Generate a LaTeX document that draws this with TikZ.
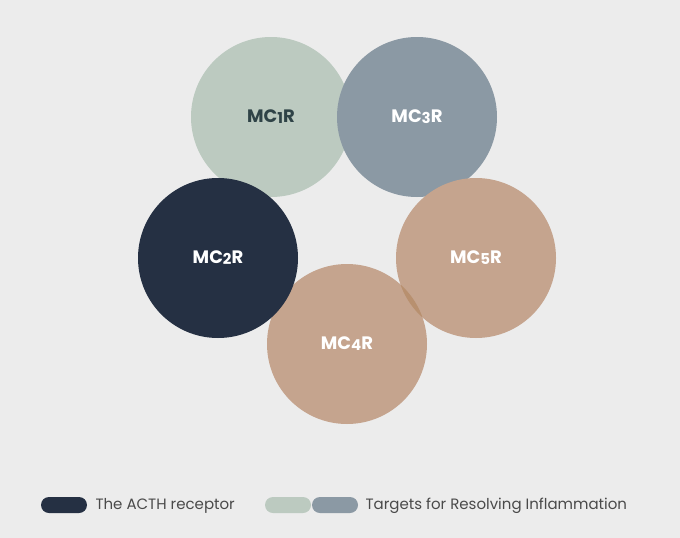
\documentclass[tikz,border=0pt]{standalone}
\usepackage{fontspec}
\setmainfont{Poppins}
\definecolor{bg}{HTML}{ECECEC}
\definecolor{cA}{HTML}{BCCAC0}
\definecolor{cB}{HTML}{8B99A4}
\definecolor{cC}{HTML}{253043}
\definecolor{cD}{HTML}{C5A48E}
\definecolor{cE}{HTML}{B8906F}
\definecolor{tA}{HTML}{2F4347}
\definecolor{tL}{HTML}{4A4A4A}
\begin{document}
\begin{tikzpicture}[x=1pt,y=-1pt,
  circ/.style={circle,minimum size=160pt,inner sep=0pt,font=\bfseries\fontsize{18}{20}\selectfont},
  pill/.style={rounded corners=8pt,minimum width=46pt,minimum height=16pt,inner sep=0pt},
  leg/.style={anchor=west,text=tL,font=\fontsize{15}{17}\selectfont}]
\fill[bg] (0,0) rectangle (680,538);
\useasboundingbox (0,0) rectangle (680,538);
\node[circ,fill=cA,text=tA] (m1) at (271,117) {MC\raisebox{-1pt}{\fontsize{15}{15}\selectfont 1}R};
\node[circ,fill=cB,text=white] (m3) at (417,117) {MC\raisebox{-1pt}{\fontsize{15}{15}\selectfont 3}R};
\node[circ,fill=cD,text=white] (m4) at (347,344) {};
\node[circ,fill=cD,text=white] (m5) at (476,258) {MC\raisebox{-1pt}{\fontsize{15}{15}\selectfont 5}R};
\begin{scope}
\clip (347,344) circle (80);
\fill[cE] (476,258) circle (80);
\end{scope}
\node[font=\bfseries\fontsize{18}{20}\selectfont,text=white] (t4) at (m4) {MC\raisebox{-1pt}{\fontsize{15}{15}\selectfont 4}R};
\node[circ,fill=cC,text=white] (m2) at (218,258) {MC\raisebox{-1pt}{\fontsize{15}{15}\selectfont 2}R};
\node[pill,fill=cC] (p1) at (64,505) {};
\node[leg] (l1) at (92,506) {The ACTH receptor};
\node[pill,fill=cA] (p2) at (288,505) {};
\node[pill,fill=cB] (p3) at (335,505) {};
\node[leg] (l2) at (362,506) {Targets for Resolving Inflammation};
\end{tikzpicture}
\end{document}
